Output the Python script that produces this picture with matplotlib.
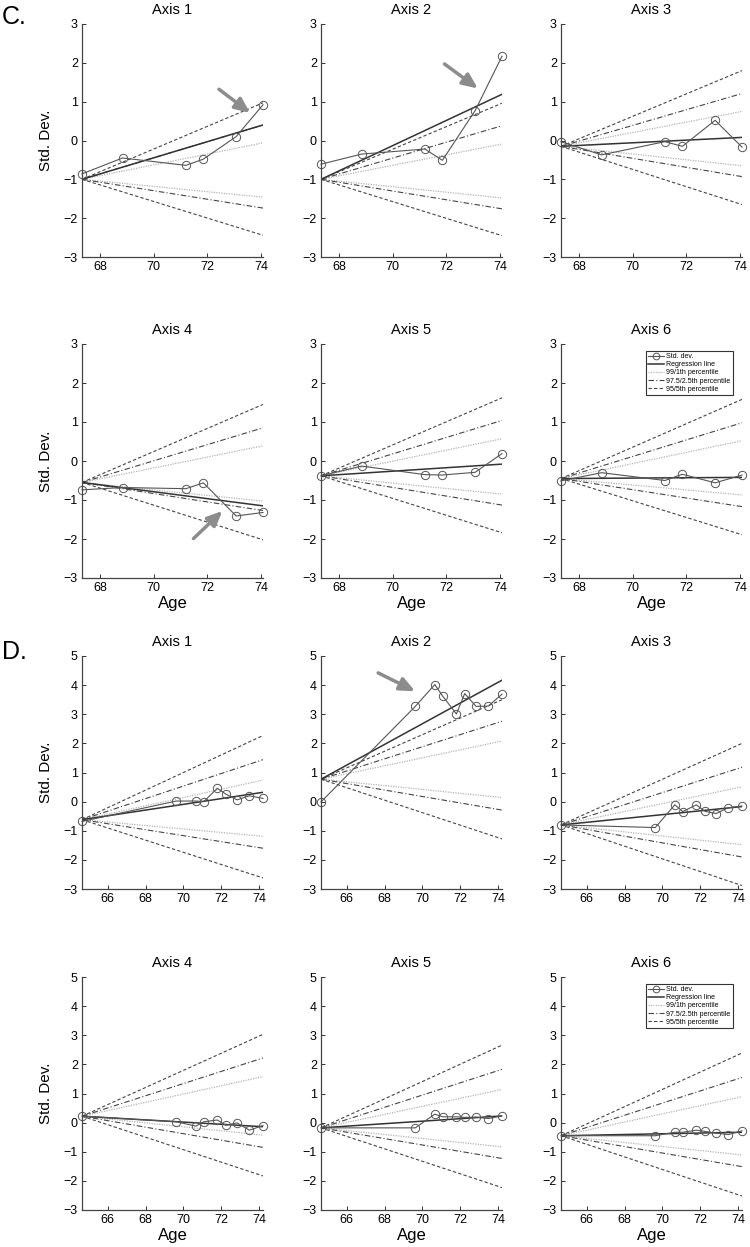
import matplotlib
matplotlib.use("Agg")
import matplotlib.pyplot as plt
import numpy as np

plt.rcParams["font.family"] = ["Liberation Sans", "DejaVu Sans"]

# ---- panel C: six axes, ages shared ----
ages_c = [67.33, 68.84, 71.2, 71.85, 73.07, 74.07]
std_c = [
    [-0.86, -0.45, -0.64, -0.48, 0.10, 0.92],
    [-0.61, -0.35, -0.22, -0.51, 0.77, 2.17],
    [-0.03, -0.37, -0.03, -0.15, 0.52, -0.17],
    [-0.74, -0.68, -0.71, -0.56, -1.41, -1.32],
    [-0.38, -0.13, -0.35, -0.36, -0.29, 0.19],
    [-0.51, -0.30, -0.50, -0.34, -0.56, -0.36],
]
anchor_c = [-1.0, -1.0, -0.15, -0.55, -0.38, -0.45]
reg_end_c = [0.40, 1.19, 0.08, -1.15, -0.08, -0.42]
p99_hi_c = [-0.06, -0.09, 0.75, 0.39, 0.57, 0.52]
p99_lo_c = [-1.46, -1.48, -0.65, -1.03, -0.85, -0.87]
p975_hi_c = [0.40, 0.38, 1.21, 0.85, 1.04, 0.98]
p975_lo_c = [-1.74, -1.76, -0.93, -1.27, -1.13, -1.17]
p95_hi_c = [0.97, 0.96, 1.80, 1.45, 1.62, 1.58]
p95_lo_c = [-2.44, -2.45, -1.65, -2.02, -1.84, -1.89]

# ---- panel D ----
ages_d = [64.64, 69.62, 70.65, 71.07, 71.79, 72.23, 72.83, 73.48, 74.2]
std_d = [
    [-0.68, 0.02, 0.02, 0.0, 0.46, 0.26, 0.06, 0.20, 0.11],
    [-0.01, 3.27, 4.02, 3.62, 3.01, 3.71, 3.27, 3.28, 3.69],
    [-0.80, -0.89, -0.11, -0.34, -0.11, -0.33, -0.41, -0.21, -0.15],
    [0.22, 0.03, -0.12, 0.03, 0.09, -0.09, -0.01, -0.26, -0.10],
    [-0.18, -0.18, 0.29, 0.20, 0.20, 0.18, 0.19, 0.14, 0.23],
    [-0.45, -0.45, -0.33, -0.33, -0.26, -0.30, -0.36, -0.41, -0.28],
]
anchor_d = [-0.62, 0.77, -0.80, 0.22, -0.18, -0.45]
reg_end_d = [0.32, 4.17, -0.17, -0.14, 0.23, -0.33]
p99_hi_d = [0.74, 2.08, 0.51, 1.58, 1.14, 0.89]
p99_lo_d = [-1.19, 0.14, -1.48, -0.43, -0.83, -1.11]
p975_hi_d = [1.44, 2.76, 1.18, 2.22, 1.83, 1.55]
p975_lo_d = [-1.60, -0.29, -1.90, -0.85, -1.23, -1.51]
p95_hi_d = [2.27, 3.50, 2.00, 3.03, 2.66, 2.39]
p95_lo_d = [-2.62, -1.28, -2.88, -1.83, -2.23, -2.52]

# arrows: (panel, axis index, tail x, tail y, head x, head y)
arrows = [
    ("C", 0, 72.43, 1.32, 73.59, 0.71),
    ("C", 1, 71.93, 1.97, 73.17, 1.34),
    ("C", 3, 71.48, -1.99, 72.56, -1.28),
    ("D", 1, 67.66, 4.42, 69.61, 3.79),
]

W, H = 750, 1247
fig = plt.figure(figsize=(W / 100, H / 100), dpi=100)

col_left = [82, 321, 561]
ax_w = 181
rows_px = {"C": [(24, 257), (344, 578)], "D": [(656, 889), (977, 1210)]}

light = "#b4b4b4"
dark = "#444444"


def make_axes(top, bottom, left):
    return fig.add_axes([left / W, 1 - bottom / H, ax_w / W, (bottom - top) / H])


def draw_panel(key, ages, std, anchor, reg_end, p99h, p99l, p975h, p975l, p95h, p95l,
               ylim, xticks, yticks):
    axes = []
    for i in range(6):
        r, c = divmod(i, 3)
        top, bottom = rows_px[key][r]
        ax = make_axes(top, bottom, col_left[c])
        x0, x1 = ages[0], ages[-1]
        h99 = ax.plot([x0, x1], [anchor[i], p99h[i]], ls=(0, (1, 1)), color=light, lw=0.9)[0]
        ax.plot([x0, x1], [anchor[i], p99l[i]], ls=(0, (1, 1)), color=light, lw=0.9)
        h975 = ax.plot([x0, x1], [anchor[i], p975h[i]], ls=(0, (5, 2, 1, 2)), color=dark, lw=0.8)[0]
        ax.plot([x0, x1], [anchor[i], p975l[i]], ls=(0, (5, 2, 1, 2)), color=dark, lw=0.8)
        h95 = ax.plot([x0, x1], [anchor[i], p95h[i]], ls=(0, (3, 2)), color=dark, lw=0.8)[0]
        ax.plot([x0, x1], [anchor[i], p95l[i]], ls=(0, (3, 2)), color=dark, lw=0.8)
        hreg = ax.plot([x0, x1], [anchor[i], reg_end[i]], color="#333333", lw=1.1)[0]
        hstd = ax.plot(ages, std[i], color="#555555", lw=0.8, marker="o", ms=6,
                       mfc="none", mec="#555555", mew=0.7, clip_on=False)[0]

        ax.set_xlim(x0, x1)
        ax.set_ylim(*ylim)
        ax.set_xticks(xticks)
        ax.set_yticks(yticks)
        ax.tick_params(direction="in", length=3, width=0.7, labelsize=9, pad=3,
                       color="#333333")
        for s in ["top", "right"]:
            ax.spines[s].set_visible(False)
        for s in ["left", "bottom"]:
            ax.spines[s].set_color("#444444")
            ax.spines[s].set_linewidth(0.9)
        ax.set_title(f"Axis {i + 1}", fontsize=10.5, pad=7)
        if c == 0:
            ax.set_ylabel("Std. Dev.", fontsize=11)
            ax.yaxis.set_label_coords(-29 / ax_w, 0.5)
        if r == 1:
            ax.set_xlabel("Age", fontsize=12, labelpad=1)
        if i == 5:
            leg = ax.legend(
                [hstd, hreg, h99, h975, h95],
                ["Std. dev.", "Regression line", "99/1th percentile",
                 "97.5/2.5th percentile", "95/5th percentile"],
                loc="upper right", bbox_to_anchor=(0.97, 0.985), fontsize=5,
                numpoints=1, handlelength=2.2, handletextpad=0.4,
                borderpad=0.35, labelspacing=0.15, fancybox=False,
                framealpha=1, edgecolor="#333333", markerscale=0.8,
            )
            leg.get_frame().set_linewidth(0.8)
        axes.append(ax)
    return axes


axes_c = draw_panel("C", ages_c, std_c, anchor_c, reg_end_c, p99_hi_c, p99_lo_c,
                    p975_hi_c, p975_lo_c, p95_hi_c, p95_lo_c,
                    (-3, 3), [68, 70, 72, 74], list(range(-3, 4)))
axes_d = draw_panel("D", ages_d, std_d, anchor_d, reg_end_d, p99_hi_d, p99_lo_d,
                    p975_hi_d, p975_lo_d, p95_hi_d, p95_lo_d,
                    (-3, 5), [66, 68, 70, 72, 74], list(range(-3, 6)))

panel_axes = {"C": axes_c, "D": axes_d}
for key, idx, tx, ty, hx, hy in arrows:
    panel_axes[key][idx].annotate(
        "", xy=(hx, hy), xytext=(tx, ty),
        arrowprops=dict(arrowstyle="-|>,head_length=0.9,head_width=0.4",
                        color="#8c8c8c", lw=2.5, shrinkA=0, shrinkB=0),
    )

fig.text(2 / W, 1 - 17 / H, "C.", fontsize=18, va="center", ha="left")
fig.text(2 / W, 1 - 652 / H, "D.", fontsize=18, va="center", ha="left")

fig.savefig("out.png", dpi=100, facecolor="white")
